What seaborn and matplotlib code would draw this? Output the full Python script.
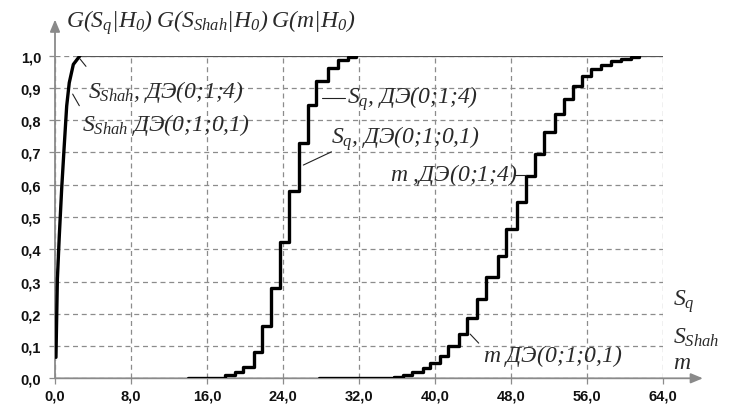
import matplotlib
matplotlib.use("Agg")
import matplotlib.pyplot as plt
import seaborn as sns
import pandas as pd

# ---- data ----
shah_x = [0.1, 0.18, 0.25, 0.45, 0.7, 0.95, 1.23, 1.5, 1.93, 2.63]
shah_g = [0.065, 0.194, 0.307, 0.44, 0.586, 0.71, 0.844, 0.916, 0.973, 1.0]

sq_x = [14.0, 17.9, 18.9, 19.8, 20.9, 21.75, 22.7, 23.7, 24.6, 25.7, 26.6, 27.5,
        28.7, 29.8, 30.8, 31.7]
sq_g = [0.0, 0.01, 0.019, 0.036, 0.082, 0.163, 0.279, 0.424, 0.581, 0.73, 0.846,
        0.921, 0.963, 0.986, 0.995, 1.0]

m_x = [27.8, 35.7, 36.6, 37.6, 38.7, 39.5, 40.5, 41.4, 42.5, 43.4, 44.4, 45.4,
       46.6, 47.5, 48.6, 49.6, 50.5, 51.5, 52.6, 53.6, 54.5, 55.5, 56.4, 57.5,
       58.5, 59.6, 60.6, 61.5]
m_g = [0.0, 0.005, 0.011, 0.02, 0.031, 0.046, 0.07, 0.101, 0.137, 0.186, 0.246,
       0.313, 0.38, 0.464, 0.545, 0.627, 0.694, 0.762, 0.818, 0.867, 0.906, 0.937,
       0.958, 0.970, 0.983, 0.991, 0.997, 1.0]

x_ticks = [0, 8, 16, 24, 32, 40, 48, 56, 64]
x_tick_labels = ["0,0", "8,0", "16,0", "24,0", "32,0", "40,0", "48,0", "56,0", "64,0"]
y_ticks = [0.0, 0.1, 0.2, 0.3, 0.4, 0.5, 0.6, 0.7, 0.8, 0.9, 1.0]
y_tick_labels = ["0,0", "0,1", "0,2", "0,3", "0,4", "0,5", "0,6", "0,7", "0,8", "0,9", "1,0"]

title_text = r"$G(S_q|H_0)\;G(S_{Shah}|H_0)\;G(m|H_0)$"
curve_labels = [
    (r"$S_{Shah}$, ДЭ(0;1;4)", 3.47, 0.891),
    (r"$S_{Shah}$ ДЭ(0;1;0,1)", 2.84, 0.788),
    (r"$S_q$, ДЭ(0;1;4)", 30.7, 0.871),
    (r"$S_q$, ДЭ(0;1;0,1)", 29.1, 0.747),
    (r"$m$ ,ДЭ(0;1;4)", 35.3, 0.633),
    (r"$m$ ДЭ(0;1;0,1)", 45.05, 0.072),
]
axis_labels = [r"$S_q$", r"$S_{Shah}$", r"$m$"]

sns.set_theme(style="white")
plt.rcParams['mathtext.fontset'] = 'custom'
plt.rcParams['mathtext.it'] = 'Liberation Serif:italic'
plt.rcParams['mathtext.rm'] = 'Liberation Serif:italic'
plt.rcParams['mathtext.bf'] = 'Liberation Serif:italic:bold'
plt.rcParams['font.family'] = ['Liberation Sans', 'DejaVu Sans']

fig = plt.figure(figsize=(7.29, 4.10), dpi=100)
ax = fig.add_axes([55 / 729, 1 - 379.3 / 410, 608 / 729, 322.6 / 410])
ax.set_xlim(0, 64)
ax.set_ylim(0, 1)
for s in ax.spines.values():
    s.set_visible(False)

ax.set_xticks(x_ticks)
ax.set_xticklabels(x_tick_labels)
ax.set_yticks(y_ticks)
ax.set_yticklabels(y_tick_labels)
ax.grid(True, linestyle=(0, (4, 3)), color='#8c8c8c', linewidth=0.9)
ax.tick_params(axis='both', which='major', length=4, width=0.9, color='#8c8c8c',
               labelsize=10.5, direction='out', left=True, bottom=True)
ax.tick_params(axis='y', pad=6)
ax.tick_params(axis='x', pad=3)
for lab in ax.get_xticklabels() + ax.get_yticklabels():
    lab.set_fontweight('bold')
    lab.set_color('#111111')

# axes with arrows
ax.annotate('', xy=(0, 1.112), xytext=(0, 0), xycoords='data',
            arrowprops=dict(arrowstyle='-|>,head_length=0.6,head_width=0.25',
                            color='#8a8a8a', lw=1.3, shrinkA=0, shrinkB=0),
            annotation_clip=False)
ax.annotate('', xy=(68.2, 0), xytext=(0, 0), xycoords='data',
            arrowprops=dict(arrowstyle='-|>,head_length=0.6,head_width=0.25',
                            color='#8a8a8a', lw=1.3, shrinkA=0, shrinkB=0),
            annotation_clip=False)

# line at 1.0 after the first curve saturates
ax.hlines(1.0, shah_x[-1], x_ticks[-1], color='#555555', linewidth=1.6, zorder=3)

df_shah = pd.DataFrame({'x': shah_x, 'g': shah_g})
df_sq = pd.DataFrame({'x': sq_x, 'g': sq_g})
df_m = pd.DataFrame({'x': m_x, 'g': m_g})
sns.lineplot(data=df_shah, x='x', y='g', ax=ax, color='black', linewidth=2.4,
             estimator=None, sort=False, zorder=4)
sns.lineplot(data=df_sq, x='x', y='g', ax=ax, color='black', linewidth=2.4,
             estimator=None, sort=False, drawstyle='steps-post', zorder=4)
sns.lineplot(data=df_m, x='x', y='g', ax=ax, color='black', linewidth=2.4,
             estimator=None, sort=False, drawstyle='steps-post', zorder=4)
ax.set_xlabel('')
ax.set_ylabel('')

txt_kw = dict(family='Liberation Serif', style='italic', color='#2a2a2a',
              fontsize=17, clip_on=False)
ax.text(1.16, 1.107, title_text, ha='left', va='center', **txt_kw)
for t, x, y in curve_labels:
    ax.text(x, y, t, ha='left', va='center', zorder=5, **txt_kw)
ax.text(65.05, 0.240, axis_labels[0], ha='left', va='center', **txt_kw)
ax.text(65.05, 0.128, axis_labels[1], ha='left', va='center', **txt_kw)
ax.text(65.05, 0.050, axis_labels[2], ha='left', va='center', **txt_kw)

# leader lines
leaders = [((2.63, 0.99), (3.26, 0.967)),
           ((1.86, 0.881), (2.56, 0.845)),
           ((28.07, 0.869), (30.5, 0.869)),
           ((26.14, 0.661), (29.1, 0.702)),
           ((48.4, 0.63), (49.6, 0.63)),
           ((43.7, 0.137), (44.6, 0.109))]
for (x0, y0), (x1, y1) in leaders:
    ax.plot([x0, x1], [y0, y1], color='#222222', linewidth=0.8, zorder=5)

fig.savefig('out.png', dpi=100, facecolor='white')
